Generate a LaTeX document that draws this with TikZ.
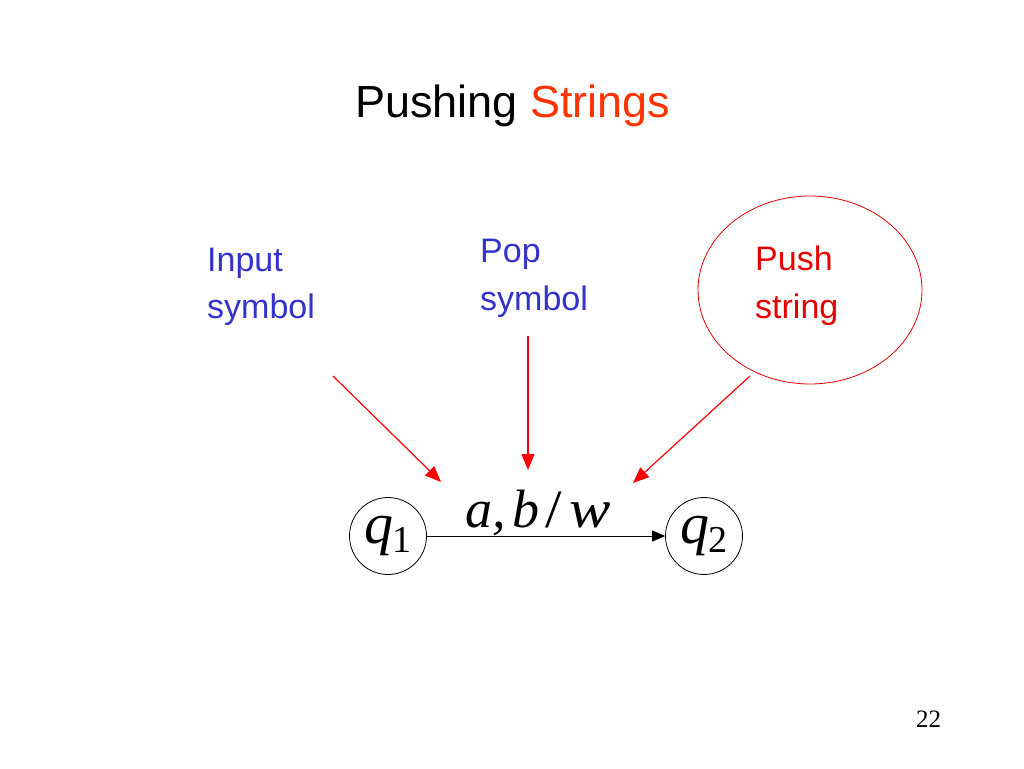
\documentclass[tikz,border=0pt]{standalone}
\usepackage{fontspec}
\setmainfont{Liberation Sans}
\newfontfamily\timesf{Liberation Serif}
\usetikzlibrary{arrows.meta,shapes.geometric}
\definecolor{lblblue}{RGB}{51,51,204}
\definecolor{titlered}{RGB}{255,51,0}
\definecolor{pushred}{RGB}{230,0,0}
\definecolor{arrred}{RGB}{255,0,0}
\newcommand{\subdig}[1]{\raisebox{-9pt}{\fontsize{38}{44}\selectfont\upshape #1}}
\tikzset{
  lbl/.style={inner sep=0pt, anchor=base west, font=\fontsize{34}{40}\selectfont},
  state/.style={circle, draw=black, line width=0.8pt, minimum size=77pt, inner sep=0pt,
     font=\timesf\fontsize{58}{66}\selectfont},
  pointer/.style={draw=arrred, line width=1.2pt, -{Triangle[length=16pt,width=13pt]}},
}
\begin{document}
\begin{tikzpicture}[x=1pt,y=-1pt]
\useasboundingbox (0,0) rectangle (1024,768);
% title
\node[inner sep=0pt, anchor=base west, font=\fontsize{45}{52}\selectfont] (title) at (355,117) {Pushing \textcolor{titlered}{Strings}};
% labels
\node[lbl, text=lblblue] (in1) at (207,271) {Input};
\node[lbl, text=lblblue] (in2) at (207,318) {symbol};
\node[lbl, text=lblblue] (pop1) at (480,262) {Pop};
\node[lbl, text=lblblue] (pop2) at (480,310) {symbol};
\node[lbl, text=pushred] (push1) at (755,270) {Push};
\node[lbl, text=pushred] (push2) at (755,318) {string};
\node[ellipse, draw=pushred, line width=0.8pt, minimum width=224pt, minimum height=188pt, inner sep=0pt] (bubble) at (810,290) {};
% states
\node[state] (q1) at (388,536) {\itshape q\hspace{-1pt}\subdig{1}};
\node[state] (q2) at (704,536) {\itshape q\hspace{-1pt}\subdig{2}};
\draw[line width=1pt, -{Triangle[length=13pt,width=11pt]}] (q1) -- (q2);
\node[inner sep=0pt, anchor=base west, font=\timesf\itshape\fontsize{54}{60}\selectfont] (lab) at (465,527)
  {\rlap{a,}\hspace{47pt}\rlap{b}\hspace{33pt}\rlap{\upshape\scalebox{1.1}[1]{/}}\hspace{24pt}\scalebox{1.15}[1]{w}};
% pointers
\coordinate (s1) at (333,376);
\coordinate (t1) at (441,482);
\coordinate (s2) at (528,336);
\coordinate (t2) at (528,470);
\coordinate (s3) at (750,376);
\coordinate (t3) at (633,483);
\draw[pointer] (s1) -- (t1);
\draw[pointer] (s2) -- (t2);
\draw[pointer] (s3) -- (t3);
% page number
\node[inner sep=0pt, anchor=base west, font=\timesf\fontsize{25}{28}\selectfont] (pg) at (916,727) {22};
\end{tikzpicture}
\end{document}
